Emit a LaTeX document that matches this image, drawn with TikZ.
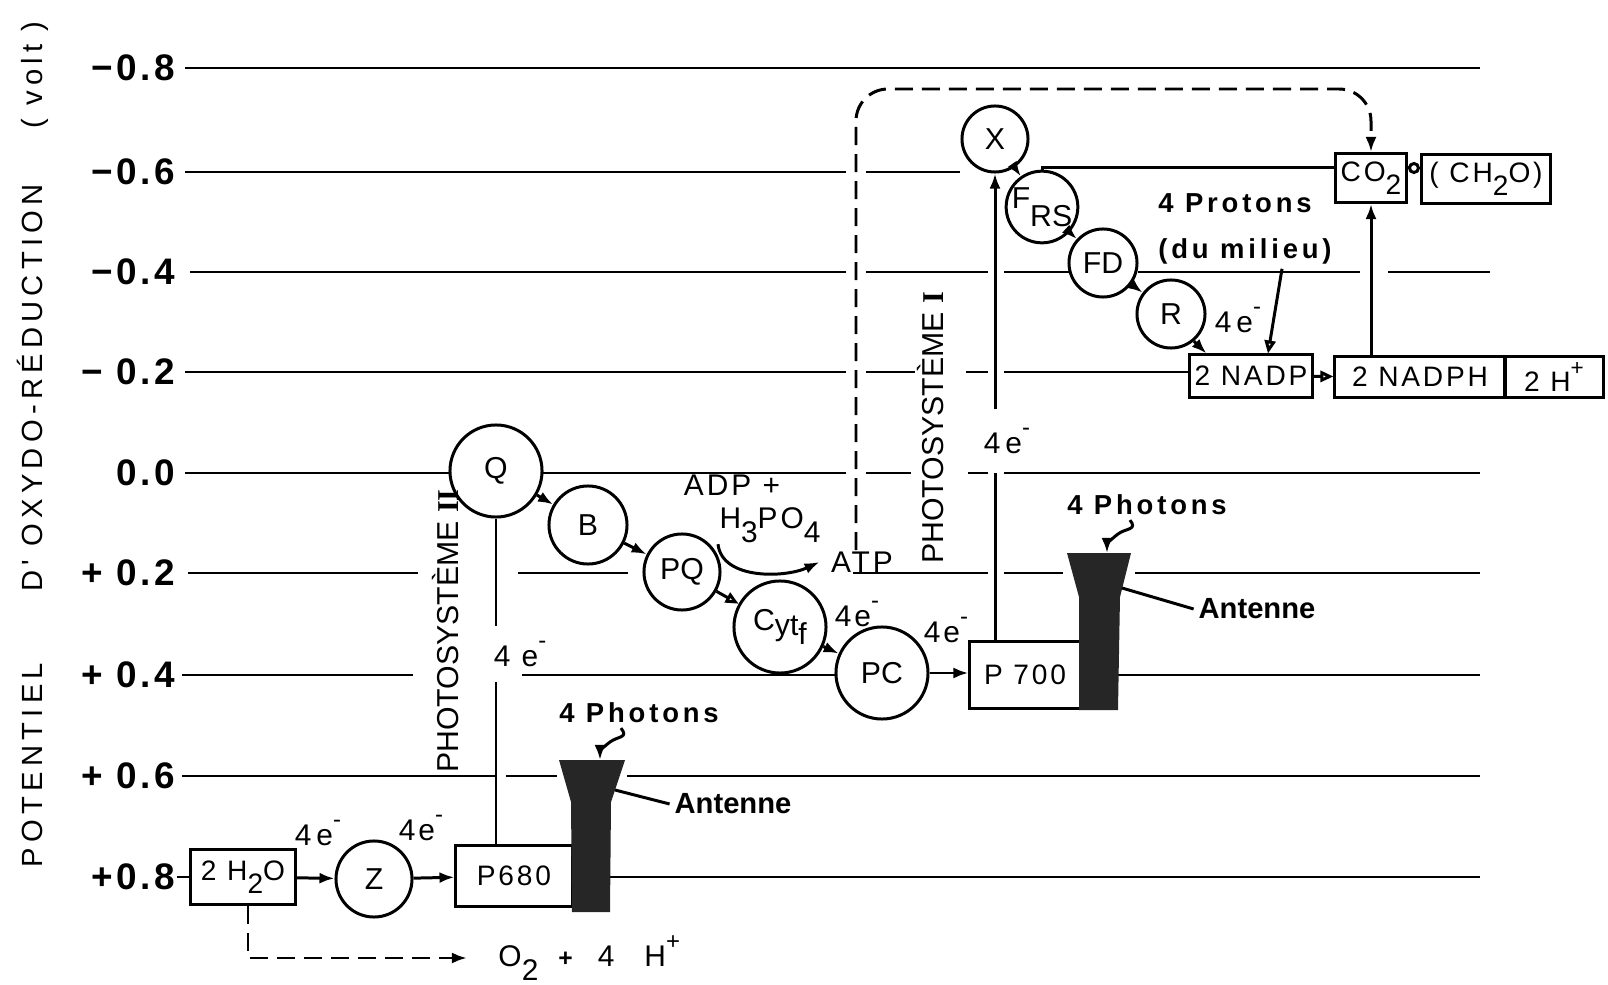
\documentclass[tikz,border=0pt]{standalone}
\usepackage{fontspec}
\setmainfont{Liberation Sans}
\newfontfamily\spacedfont[LetterSpace=10]{Liberation Sans}
\newfontfamily\notefont[LetterSpace=14]{Liberation Sans}
\newfontfamily\levelfont[LetterSpace=10]{Liberation Sans}
\newfontfamily\widefont[LetterSpace=18]{Liberation Sans}
\newfontfamily\romanfont{Liberation Serif}
\usetikzlibrary{arrows.meta}

% lowered index and raised charge, as in the lettering
\newcommand{\lowsub}[1]{\raisebox{-0.9ex}{#1}}
\newcommand{\highsup}[1]{\raisebox{1.1ex}{\scalebox{0.8}{#1}}}
\newcommand{\elec}{e\highsup{-}}

\begin{document}
\begin{tikzpicture}[x=0.01cm, y=-0.01cm, line width=0.85pt,
    level/.style={anchor=east, inner sep=0pt, font=\levelfont\bfseries\fontsize{10.5}{11}\selectfont},
    axis/.style={rotate=90, anchor=base, inner sep=0pt, font=\widefont\fontsize{8.3}{9}\selectfont},
    system/.style={rotate=90, anchor=base, inner sep=0pt, font=\fontsize{8.6}{9}\selectfont},
    carrier/.style={draw, circle, inner sep=0pt, font=\fontsize{8.6}{9}\selectfont},
    pool/.style={draw, rectangle, inner sep=0pt, font=\spacedfont\fontsize{8}{9}\selectfont},
    tag/.style={inner sep=0pt, font=\spacedfont\fontsize{8.5}{9}\selectfont},
    note/.style={inner sep=1pt, font=\notefont\bfseries\fontsize{7.8}{9}\selectfont},
    flow/.style={-{Latex[length=1.5mm, width=1.1mm]}},
    hollow/.style={-{Triangle[open, length=1.3mm, width=1.1mm]}},
    dashflow/.style={dash pattern=on 0.18cm off 0.09cm, -{Latex[length=1.5mm, width=1.1mm]}},
    antenna/.style={fill=black!85},
  ]
  \useasboundingbox (0,0) rectangle (1608,985);

  % Axis title
  \node (potA) [axis] at (42,765) {POTENTIEL};
  \node (potB) [axis] at (42,388) {D' OXYDO-RÉDUCTION};
  \node (potC) [axis] at (42,75) {( volt )};

  % Potential levels
  \foreach \y/\v in {68/−0.8, 172/−0.6, 272/−0.4, 372/− 0.2, 473/0.0, 573/+ 0.2, 675/+ 0.4, 776/+ 0.6, 877/+0.8} {
      \node (V\y) [level] at (177,\y) {\v};
    }

  % Level lines (broken where something crosses them)
  \foreach \y/\a/\b in {68/185/1480, 172/185/846, 172/866/960,
      272/190/846, 272/866/988, 272/1004/1070, 272/1138/1360, 272/1388/1490,
      372/185/846, 372/866/915, 372/966/988, 372/1004/1190,
      473/185/450, 473/542/846, 473/866/911, 473/968/988, 473/1004/1480,
      573/188/418, 573/518/628, 573/853/988, 573/1004/1063, 573/1135/1480,
      675/182/413, 675/522/837, 675/1118/1480,
      776/182/497, 776/506/557, 776/627/1480,
      877/177/191, 877/610/1480} {
      \draw (\a,\y) -- (\b,\y);
    }

  % Photosystem II
  \node (H2O) [pool, minimum width=1.04cm, minimum height=0.55cm] at (243,877) {2 H\lowsub{2}O};
  \node (Z) [carrier, minimum size=0.76cm] at (374,879) {Z};
  \node (P680) [pool, minimum width=1.16cm, minimum height=0.61cm] at (514,876) {P680};
  \node (Q) [carrier, minimum size=0.92cm] at (496,471) {Q};
  \node (B) [carrier, minimum size=0.78cm] at (588,525) {B};
  \node (PQ) [carrier, minimum size=0.76cm] at (682,572) {PQ};
  \node (Cyt) [carrier, minimum size=0.92cm] at (780,627) {C\raisebox{-0.3ex}{yt}\raisebox{-0.9ex}{f}};
  \node (PC) [carrier, minimum size=0.92cm] at (882,673) {PC};
  \node (PSII) [system] at (458,631) {PHOTOSYSTÈME {\romanfont\bfseries II}};

  % Photosystem I
  \node (P700) [pool, minimum width=1.1cm, minimum height=0.66cm] at (1025,675) {P 700};
  \node (X) [carrier, minimum size=0.66cm] at (995,139) {X};
  \node (FRS) [carrier, minimum size=0.68cm] at (1042,207) {F\raisebox{-1.1ex}{RS}};
  \node (FD) [carrier, minimum size=0.68cm] at (1103,263) {FD};
  \node (R) [carrier, minimum size=0.68cm] at (1171,314) {R};
  \node (PSI) [system] at (943,428) {PHOTOSYSTÈME {\romanfont\bfseries I}};

  % NADP and carbon
  \node (NADP) [pool, minimum width=1.22cm, minimum height=0.42cm] at (1251,376) {2 NADP};
  \node (NADPH) [pool, minimum width=1.70cm, minimum height=0.40cm] at (1420,377) {2 NADPH};
  \node (Hplus) [pool, minimum width=0.98cm, minimum height=0.40cm] at (1554,377) {2 H\highsup{+}};
  \node (CO2) [pool, minimum width=0.70cm, minimum height=0.49cm] at (1371,178) {CO\lowsub{2}};
  \node (CH2O) [pool, minimum width=1.29cm, minimum height=0.49cm] at (1486,179) {( CH\lowsub{2}O)};

  % Texts
  \node (ADP) [tag] at (732,485) {ADP +};
  \node (H3PO4) [tag] at (770,525) {H\lowsub{3}PO\lowsub{4}};
  \node (ATP) [tag] at (862,562) {ATP};
  \node (O2) [tag, anchor=west] at (497,958) {O\lowsub{2}\hspace{0.2cm}{\fontsize{7}{7}\selectfont\bfseries +}\hspace{0.25cm}4\hspace{0.3cm}H\highsup{+}};
  \node (eQ) [tag, inner ysep=4pt] at (520,654) {4 \elec};
  \node (eZa) [tag] at (318,833) {4\,\elec};
  \node (eZb) [tag] at (421,828) {4\elec};
  \node (eCyt) [tag] at (857,614) {4\elec};
  \node (ePC) [tag] at (946,630) {4\elec};
  \node (eX) [tag, inner ysep=5pt] at (1007,441) {4\,\elec};
  \node (eR) [tag] at (1238,320) {4\,\elec};
  \node (phot1) [note] at (639,713) {4 Photons};
  \node (phot2) [note] at (1147,505) {4 Photons};
  \node (ant1) [note, font=\bfseries\fontsize{8.3}{9}\selectfont] at (733,804) {Antenne};
  \node (ant2) [note, font=\bfseries\fontsize{8.3}{9}\selectfont] at (1257,609) {Antenne};
  \node (prot) [note] at (1235,203) {4 Protons};
  \node (milieu) [note] at (1245,251) {(du milieu)};

  % Antennas
  \fill[antenna] (559,760) -- (625,760) -- (611,802) -- (610,912) -- (572,912) -- (571,802) -- cycle;
  \fill[antenna] (1067,553) -- (1131,553) -- (1120,597) -- (1118,710) -- (1079,710) -- (1079,597) -- cycle;
  \coordinate (tip1) at (600,760);
  \coordinate (tip2) at (1107,553);
  \coordinate (edge1) at (615,790);
  \coordinate (edge2) at (1122,588);
  \coordinate (turn) at (1371,89);

  % Electron transport
  \draw[flow] (H2O) -- (Z);
  \draw[flow] (Z) -- (P680);
  \draw (P680.north -| Q) -- (Q |- eQ.south);
  \draw (Q |- eQ.north) -- (Q);
  \draw[flow] (Q) -- (B);
  \draw[flow] (B) -- (PQ);
  \draw[hollow] (PQ) -- (Cyt);
  \draw[flow] (Cyt) -- (PC);
  \draw[flow] (PC.east) -- (PC.east -| P700.west);
  \draw (X |- P700.north) -- (X |- eX.south);
  \draw[flow] (X |- eX.north) -- (X);
  \draw[flow] (X) -- (FRS);
  \draw[flow] (FRS) -- (FD);
  \draw[flow] (FD) -- (R);
  \draw[flow] (R.-50) -- ([xshift=0.18cm]NADP.north west);
  \draw[hollow] ([xshift=0.37cm]milieu.south) -- ([xshift=0.17cm]NADP.north);
  \draw[hollow] (NADP) -- (NADPH);
  \draw[flow] (NADPH.north -| CO2) -- (CO2);
  \draw (FRS.north) |- ([yshift=0.1cm]CO2.west);
  \draw[-{Circle[open, length=1.2mm]}] ([yshift=0.1cm]CO2.east) -- ([yshift=0.1cm]CO2.east -| CH2O.west);

  % Phosphorylation and carbon path
  \draw[flow] (H3PO4.south west) .. controls (722,580) and (785,578) .. ([xshift=-0.1cm]ATP.west);
  \draw[dashflow, rounded corners=0.32cm] ([xshift=-0.06cm]ATP.north) |- (turn) -- (CO2.north);
  \draw[dashflow] ([xshift=0.05cm]H2O.south) |- ([xshift=-0.3cm]O2.west);

  % Photons and antenna labels
  \draw[flow] ([xshift=-0.18cm]phot1.south) .. controls +(8,10) and +(8,-6) .. (610,742) .. controls +(-8,6) and +(0,-8) .. (tip1);
  \draw[flow] ([xshift=-0.17cm]phot2.south) .. controls +(8,10) and +(8,-6) .. (1118,534) .. controls +(-8,6) and +(0,-8) .. (tip2);
  \draw (edge1) -- (ant1.west);
  \draw (edge2) -- (ant2.west);
\end{tikzpicture}
\end{document}
